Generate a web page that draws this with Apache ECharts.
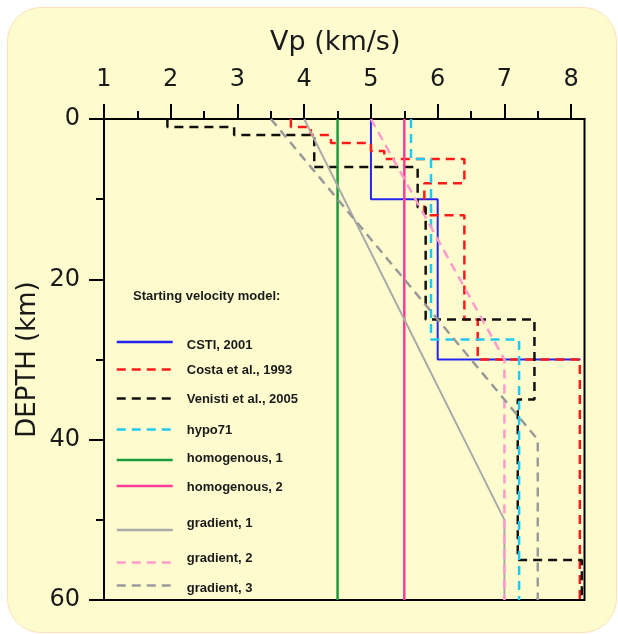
<!DOCTYPE html>
<html>
<head>
<meta charset="utf-8">
<script src="https://cdn.jsdelivr.net/npm/echarts@6/dist/echarts.min.js"></script>
<style>
  html, body { margin: 0; padding: 0; background: #ffffff; }
  #frame { position: absolute; left: 7px; top: 7px; width: 610px; height: 626px; border-radius: 34px;
           background: #FEFCCE; border: 1px solid #FBE2B8; box-sizing: border-box; }
  #chart { position: absolute; left: 0; top: 0; width: 618px; height: 634px; }
</style>
</head>
<body>
<div id="frame"></div>
<div id="chart"></div>
<script>
// ---- data: [Vp (km/s), depth (km)] ----
var seriesNames = ['CSTI, 2001', 'Costa et al., 1993', 'Venisti et al., 2005', 'hypo71',
                   'homogenous, 1', 'homogenous, 2', 'gradient, 1', 'gradient, 2', 'gradient, 3'];
var csti = [[5,0],[5,10],[6,10],[6,30],[8.14,30]];
var costa = [[3.8,0],[3.8,1],[4.1,1],[4.1,2],[4.4,2],[4.4,3],[5.0,3],[5.0,4],[5.2,4],[5.2,5],
             [6.4,5],[6.4,8],[5.8,8],[5.8,12],[6.4,12],[6.4,25],[6.6,25],[6.6,30],[8.13,30],[8.13,60]];
var venisti = [[1.95,0],[1.95,1],[2.95,1],[2.95,2],[4.15,2],[4.15,6],[5.7,6],[5.7,11],[5.82,11],
               [5.82,25],[7.45,25],[7.45,35],[7.2,35],[7.2,55],[8.16,55],[8.16,60]];
var hypo71 = [[5.6,0],[5.6,5],[5.9,5],[5.9,27.5],[7.22,27.5],[7.22,60]];
var homog1 = [[4.5,0],[4.5,60]];
var homog2 = [[5.5,0],[5.5,60]];
var grad1 = [[4,0],[7,50],[7,60]];
var grad2 = [[5,0],[7,30],[7,60]];
var grad3 = [[3.5,0],[7.5,40],[7.5,60]];
var xTicks = [1,2,3,4,5,6,7,8];
var xMinorTicks = [1.5,2.5,3.5,4.5,5.5,6.5,7.5];
var yMinorTicks = [10,30,50];
var legendTitle = 'Starting velocity model:';

// ---- styling ----
var seriesData = [csti, costa, venisti, hypo71, homog1, homog2, grad1, grad2, grad3];
var colors = ['#2424F0', '#FF1A1A', '#111111', '#22C8F2', '#1A9A3C', '#FF3C96', '#AAAAAA', '#FF9ACD', '#9A9A9A'];
var types = ['solid', [9,6], [9,6], [9,6], 'solid', 'solid', 'solid', [9,6], [9,6]];
var widths = [2, 2.5, 2.5, 2.5, 2.5, 2.5, 2, 2.5, 2.5];
var legendLineY = [343.5, 371, 400, 431, 459, 487.5, 524, 558.5, 587];
var legendTextShift = [3, 0.5, 0.5, 0.5, -1, 0.5, -6, -4, 2.5];

var axisFont = 'DejaVu Sans';
var series = seriesData.map(function (d, i) {
  return {
    name: seriesNames[i], type: 'line', data: d, symbol: 'none',
    xAxisIndex: 0, yAxisIndex: 0,
    lineStyle: { color: colors[i], width: widths[i], type: types[i] },
    itemStyle: { color: colors[i] },
    emphasis: { disabled: true }, silent: true, animation: false
  };
});
var legends = seriesNames.map(function (n, i) {
  var s = legendTextShift[i];
  return {
    data: [n], left: 115.5, top: legendLineY[i] - 7, itemWidth: 56, itemHeight: 14,
    selectedMode: false, padding: 0, icon: 'inherit',
    itemStyle: { opacity: 0 },
    lineStyle: { width: 2.5 },
    formatter: function (name) { return '{t|' + name + '}'; },
    textStyle: { fontFamily: 'Liberation Sans', fontWeight: 'bold', fontSize: 13, color: '#1a1a1a',
                 padding: [0, 0, 0, 9],
                 rich: { t: { fontFamily: 'Liberation Sans', fontWeight: 'bold', fontSize: 13, color: '#1a1a1a',
                              lineHeight: 14 + 2 * Math.abs(s), verticalAlign: s >= 0 ? 'bottom' : 'top' } } }
  };
});

var chart = echarts.init(document.getElementById('chart'), null, { renderer: 'canvas' });
chart.setOption({
  backgroundColor: 'transparent',
  animation: false,
  title: { text: legendTitle, left: 133, top: 290, padding: 0,
           textStyle: { fontFamily: 'Liberation Sans', fontWeight: 'bold', fontSize: 13, color: '#1a1a1a' } },
  legend: legends,
  grid: { left: 104, top: 119, right: 33.5, bottom: 34, containLabel: false, outerBoundsMode: 'none',
          show: true, borderColor: '#000', borderWidth: 2, backgroundColor: 'transparent' },
  xAxis: [
    { type: 'value', position: 'top', min: 1, max: 8.2,
      name: 'Vp (km/s)', nameLocation: 'middle', nameGap: 63, nameMoveOverlap: false,
      nameTextStyle: { fontFamily: axisFont, fontSize: 27, color: '#1a1a1a', padding: [0, 18, 0, 0] },
      axisLine: { show: true, lineStyle: { color: '#000', width: 2 } },
      axisTick: { show: true, inside: false, length: 15, customValues: xTicks, lineStyle: { color: '#000', width: 2 } },
      axisLabel: { show: true, customValues: xTicks, margin: 27, fontFamily: axisFont, fontSize: 24, color: '#1a1a1a' },
      splitLine: { show: false } },
    { type: 'value', position: 'top', min: 1, max: 8.2,
      axisLine: { show: false },
      axisTick: { show: true, inside: false, length: 8, customValues: xMinorTicks, lineStyle: { color: '#000', width: 2 } },
      axisLabel: { show: false }, splitLine: { show: false } }
  ],
  yAxis: [
    { type: 'value', position: 'left', inverse: true, min: 0, max: 60, interval: 20,
      name: 'DEPTH (km)', nameLocation: 'middle', nameGap: 63, nameRotate: 90, nameMoveOverlap: false,
      nameTextStyle: { fontFamily: axisFont, fontSize: 26, color: '#1a1a1a' },
      axisLine: { show: true, lineStyle: { color: '#000', width: 2 } },
      axisTick: { show: true, inside: false, length: 15, lineStyle: { color: '#000', width: 2 } },
      axisLabel: { show: true, margin: 24, fontFamily: axisFont, fontSize: 24, color: '#1a1a1a' },
      splitLine: { show: false } },
    { type: 'value', position: 'left', inverse: true, min: 0, max: 60,
      axisLine: { show: false },
      axisTick: { show: true, inside: false, length: 8, customValues: yMinorTicks, lineStyle: { color: '#000', width: 2 } },
      axisLabel: { show: false }, splitLine: { show: false } }
  ],
  series: series
});
</script>
</body>
</html>
